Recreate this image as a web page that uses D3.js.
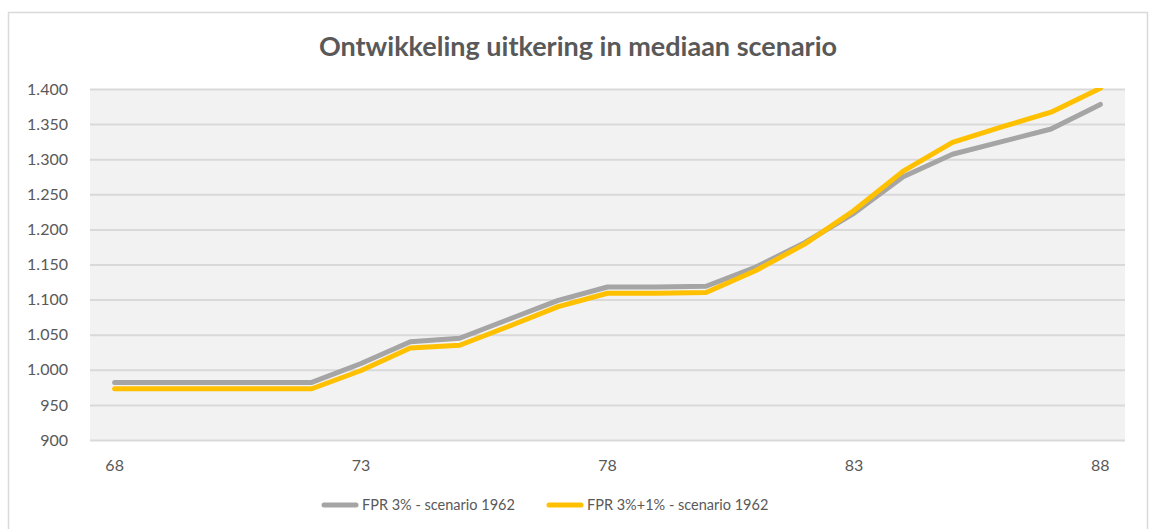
<!DOCTYPE html>
<html>
<head>
<meta charset="utf-8">
<script src="https://cdn.jsdelivr.net/npm/d3@7"></script>
<style>
  html, body { margin: 0; padding: 0; background: #fff; }
  svg { display: block; }
  text { font-family: Lato, "Open Sans", "Liberation Sans", sans-serif; fill: #595959; }
</style>
</head>
<body>
<svg id="chart" width="1152" height="529"></svg>
<script>
// Ages on the category axis
const ages = [68, 69, 70, 71, 72, 73, 74, 75, 76, 77, 78, 79, 80, 81, 82, 83, 84, 85, 86, 87, 88];
// Benefit development, median scenario
const fpr3 = [982, 982, 982, 982, 982, 1009, 1040, 1045, 1072, 1099, 1118, 1118, 1119, 1146, 1181, 1223, 1275, 1307, 1325, 1343, 1378];
const fpr3plus1 = [973, 973, 973, 973, 973, 999, 1031, 1035, 1062, 1090, 1109, 1109, 1110, 1141, 1179, 1227, 1283, 1324, 1346, 1367, 1401];
const seriesNames = ["FPR 3% - scenario 1962", "FPR 3%+1% - scenario 1962"];
const seriesColors = ["#A5A5A5", "#FFC000"];
const yTicks = [900, 950, 1000, 1050, 1100, 1150, 1200, 1250, 1300, 1350, 1400];
const xTickLabels = [68, 73, 78, 83, 88];
const title = "Ontwikkeling uitkering in mediaan scenario";

const svg = d3.select("#chart");
const plot = { left: 90, right: 1125, top: 89, bottom: 440 };

// Outer chart frame
svg.append("rect")
  .attr("x", 8.5).attr("y", 12.5)
  .attr("width", 1139).attr("height", 540)
  .attr("fill", "#fff").attr("stroke", "#D9D9D9").attr("stroke-width", 1.5);

const x = d3.scaleBand().domain(ages).range([plot.left, plot.right]);
const y = d3.scaleLinear().domain([900, 1400]).range([plot.bottom, plot.top]);

// Plot background
svg.append("rect")
  .attr("x", plot.left).attr("y", plot.top)
  .attr("width", plot.right - plot.left).attr("height", plot.bottom - plot.top)
  .attr("fill", "#F2F2F2");

// Gridlines and value labels
const yAxis = d3.axisLeft(y).tickValues(yTicks)
  .tickSize(-(plot.right - plot.left)).tickPadding(22)
  .tickFormat(d => d3.format(",")(d).replace(/,/g, "."));
const gy = svg.append("g").attr("transform", `translate(${plot.left},0)`).call(yAxis);
gy.select(".domain").remove();
gy.selectAll(".tick line").attr("stroke", "#D9D9D9").attr("stroke-width", 2);
gy.selectAll(".tick text").style("font-size", "16px").attr("fill", "#595959");

// Category labels
const xAxis = d3.axisBottom(x).tickValues(xTickLabels).tickSize(0).tickPadding(20);
const gx = svg.append("g").attr("transform", `translate(0,${plot.bottom})`).call(xAxis);
gx.select(".domain").remove();
gx.selectAll(".tick text").style("font-size", "16px").attr("fill", "#595959");

// Series lines, clipped to the plot area
svg.append("clipPath").attr("id", "plotClip")
  .append("rect").attr("x", plot.left).attr("y", plot.top - 1)
  .attr("width", plot.right - plot.left).attr("height", plot.bottom - plot.top + 2);

const line = d3.line()
  .x((d, i) => x(ages[i]) + x.bandwidth() / 2)
  .y(d => y(d));

[fpr3, fpr3plus1].forEach((vals, k) => {
  svg.append("path")
    .datum(vals)
    .attr("clip-path", "url(#plotClip)")
    .attr("d", line)
    .attr("fill", "none")
    .attr("stroke", seriesColors[k])
    .attr("stroke-width", 5)
    .attr("stroke-linejoin", "round")
    .attr("stroke-linecap", "round");
});

// Title
svg.append("text")
  .attr("x", 578).attr("y", 56)
  .attr("text-anchor", "middle")
  .style("font-size", "27px").style("font-weight", "bold")
  .attr("fill", "#595959")
  .text(title);

// Legend
const legendPos = [{ x: 322, tx: 362 }, { x: 547, tx: 587 }];
seriesNames.forEach((name, k) => {
  const g = svg.append("g");
  g.append("line")
    .attr("x1", legendPos[k].x + 2).attr("x2", legendPos[k].x + 34)
    .attr("y1", 505).attr("y2", 505)
    .attr("stroke", seriesColors[k]).attr("stroke-width", 5)
    .attr("stroke-linecap", "round");
  g.append("text")
    .attr("x", legendPos[k].tx).attr("y", 510)
    .style("font-size", "14.5px").attr("fill", "#595959")
    .text(name);
});
</script>
</body>
</html>
